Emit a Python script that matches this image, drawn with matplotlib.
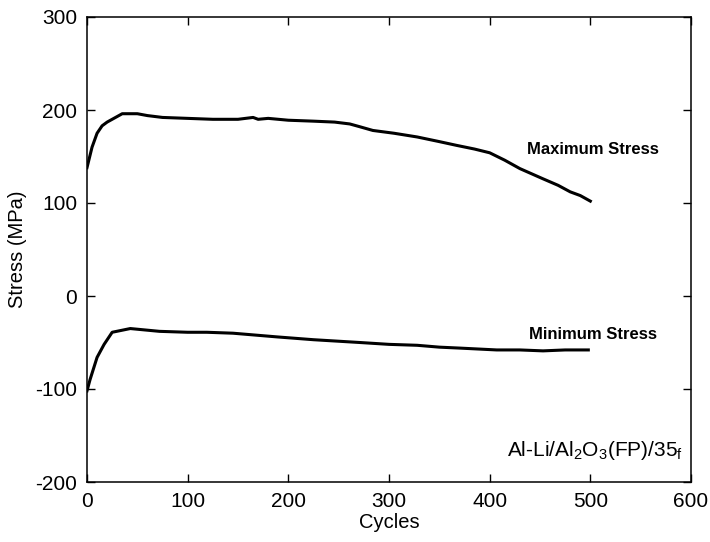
import matplotlib
matplotlib.use("Agg")
import matplotlib.pyplot as plt

plt.rcParams['font.family'] = ['Liberation Sans', 'DejaVu Sans']
plt.rcParams['mathtext.fontset'] = 'custom'
plt.rcParams['mathtext.rm'] = 'Liberation Sans'
plt.rcParams['mathtext.it'] = 'Liberation Sans'
plt.rcParams['mathtext.bf'] = 'Liberation Sans:bold'
plt.rcParams['axes.unicode_minus'] = False

# Maximum stress per cycle
max_cycles = [0, 5, 10, 15, 20, 25, 30, 35, 50, 60, 75, 100, 125, 150, 165, 170,
              180, 200, 225, 246, 261, 271, 284, 305, 328, 350, 367, 385, 400,
              415, 430, 453, 468, 480, 490, 500]
max_stress = [138, 160, 175, 183, 187, 190, 193, 196, 196, 194, 192, 191, 190, 190, 192, 190,
              191, 189, 188, 187, 185, 182, 178, 175, 171, 166, 162, 158, 154,
              146, 137, 126, 119, 112, 108, 102]

# Minimum stress per cycle
min_cycles = [0, 3, 10, 17, 25, 43, 72, 100, 119, 145, 189, 225, 271, 300, 328,
              350, 370, 407, 430, 453, 475, 498]
min_stress = [-102, -90, -66, -52, -39, -35, -38, -39, -39, -40, -44, -47, -50, -52, -53,
              -55, -56, -58, -58, -59, -58, -58]

x_ticks = [0, 100, 200, 300, 400, 500, 600]
y_ticks = [-200, -100, 0, 100, 200, 300]

fig = plt.figure(figsize=(7.10, 5.42), dpi=100)
ax = fig.add_axes([87 / 710, 60 / 542, 604 / 710, 465 / 542])

ax.plot(max_cycles, max_stress, color='black', lw=2.2, solid_joinstyle='round')
ax.plot(min_cycles, min_stress, color='black', lw=2.2, solid_joinstyle='round')

ax.set_xlim(0, 600)
ax.set_ylim(-200, 300)
ax.set_xticks(x_ticks)
ax.set_yticks(y_ticks)
ax.tick_params(direction='in', length=6, width=1, top=True, right=True,
               labelsize=15, pad=7, colors='black')
for s in ax.spines.values():
    s.set_linewidth(1.1)

ax.set_xlabel('Cycles', fontsize=14.5, labelpad=2)
ax.set_ylabel('Stress (MPa)', fontsize=14.5, labelpad=6)

ax.text(437, 158, 'Maximum Stress', fontsize=12, fontweight='bold',
        ha='left', va='center')
ax.text(439, -41, 'Minimum Stress', fontsize=12, fontweight='bold',
        ha='left', va='center')
ax.text(592, -172, r'Al-Li/Al$_2$O$_3$(FP)/35$_f$', fontsize=15,
        ha='right', va='baseline')

fig.savefig('out.png', dpi=100)
